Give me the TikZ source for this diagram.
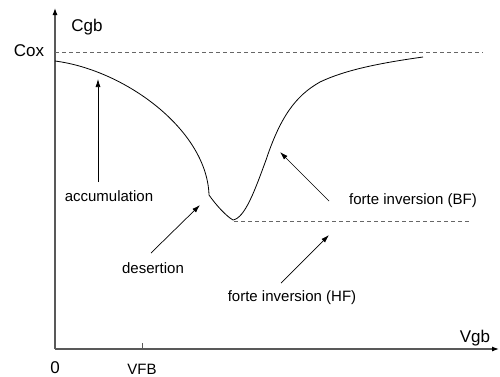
\documentclass[tikz,border=0pt]{standalone}
\usepackage{fontspec}
\setmainfont{Liberation Sans}
\usetikzlibrary{arrows.meta}
\begin{document}
\begin{tikzpicture}[x=1pt,y=-1pt,
  axis/.style={draw=black!65,line width=1.1pt,-{Latex[length=7pt,width=5pt,black]}},
  lbl/.style={font=\fontsize{15}{18}\selectfont,inner sep=0pt},
  biglbl/.style={font=\fontsize{17}{20}\selectfont,inner sep=0pt},
  ptr/.style={draw=black,line width=0.7pt,-{Latex[length=8pt,width=5pt]}},
  ref/.style={draw=black!60,line width=0.8pt,dash pattern=on 4pt off 3pt},
  curve/.style={draw=black,line width=0.8pt}]
\useasboundingbox (0,0) rectangle (500,376);
% axes
\coordinate (O) at (55,349);
\coordinate (ytop) at (55,8);
\coordinate (xend) at (499,349);
\draw[axis] (O) -- (ytop);
\draw[axis] (O) -- (xend);
% tick
\coordinate (vfbtick) at (142,343);
\coordinate (vfbbase) at (142,349);
\draw[draw=black!65,line width=0.8pt] (vfbbase) -- (vfbtick);
% labels
\node[biglbl] (cgb) at (87,27) {Cgb};
\node[biglbl] (cox) at (29,51) {Cox};
\node[biglbl] (vgb) at (475,338) {Vgb};
\node[biglbl] (zero) at (55,368) {0};
\node[lbl] (vfb) at (142,369) {VFB};
% dashed references
\coordinate (coxL) at (55,52);
\coordinate (coxR) at (483,52);
\draw[ref] (coxL) -- (coxR);
\coordinate (hfL) at (234,221);
\coordinate (hfR) at (470,221);
\draw[ref] (hfL) -- (hfR);
% curve
\coordinate (c0) at (55,61);
\coordinate (kink) at (209,195);
\coordinate (cmin) at (233,220);
\coordinate (cend) at (423,57);
\draw[curve] (c0) .. controls (125,70) and (207,130) .. (kink)
  .. controls (216,205) and (226,216) .. (cmin)
  .. controls (245,218) and (255,190) .. (266,160)
  .. controls (280,118) and (295,96) .. (320,82)
  .. controls (345,70) and (380,63) .. (cend);
% text labels
\node[lbl] (acc) at (109,196) {accumulation};
\node[lbl] (des) at (153,268) {desertion};
\node[lbl] (bf) at (413,201) {forte inversion (BF)};
\node[lbl] (hf) at (292,298) {forte inversion (HF)};
% pointers
\coordinate (accT) at (98,182);
\coordinate (accH) at (98,79);
\draw[ptr] (accT) -- (accH);
\coordinate (desT) at (151,253);
\coordinate (desH) at (200,205);
\draw[ptr] (desT) -- (desH);
\coordinate (bfT) at (329,201);
\coordinate (bfH) at (280,152);
\draw[ptr] (bfT) -- (bfH);
\coordinate (hfT) at (281,283);
\coordinate (hfH) at (329,235);
\draw[ptr] (hfT) -- (hfH);
\end{tikzpicture}
\end{document}
